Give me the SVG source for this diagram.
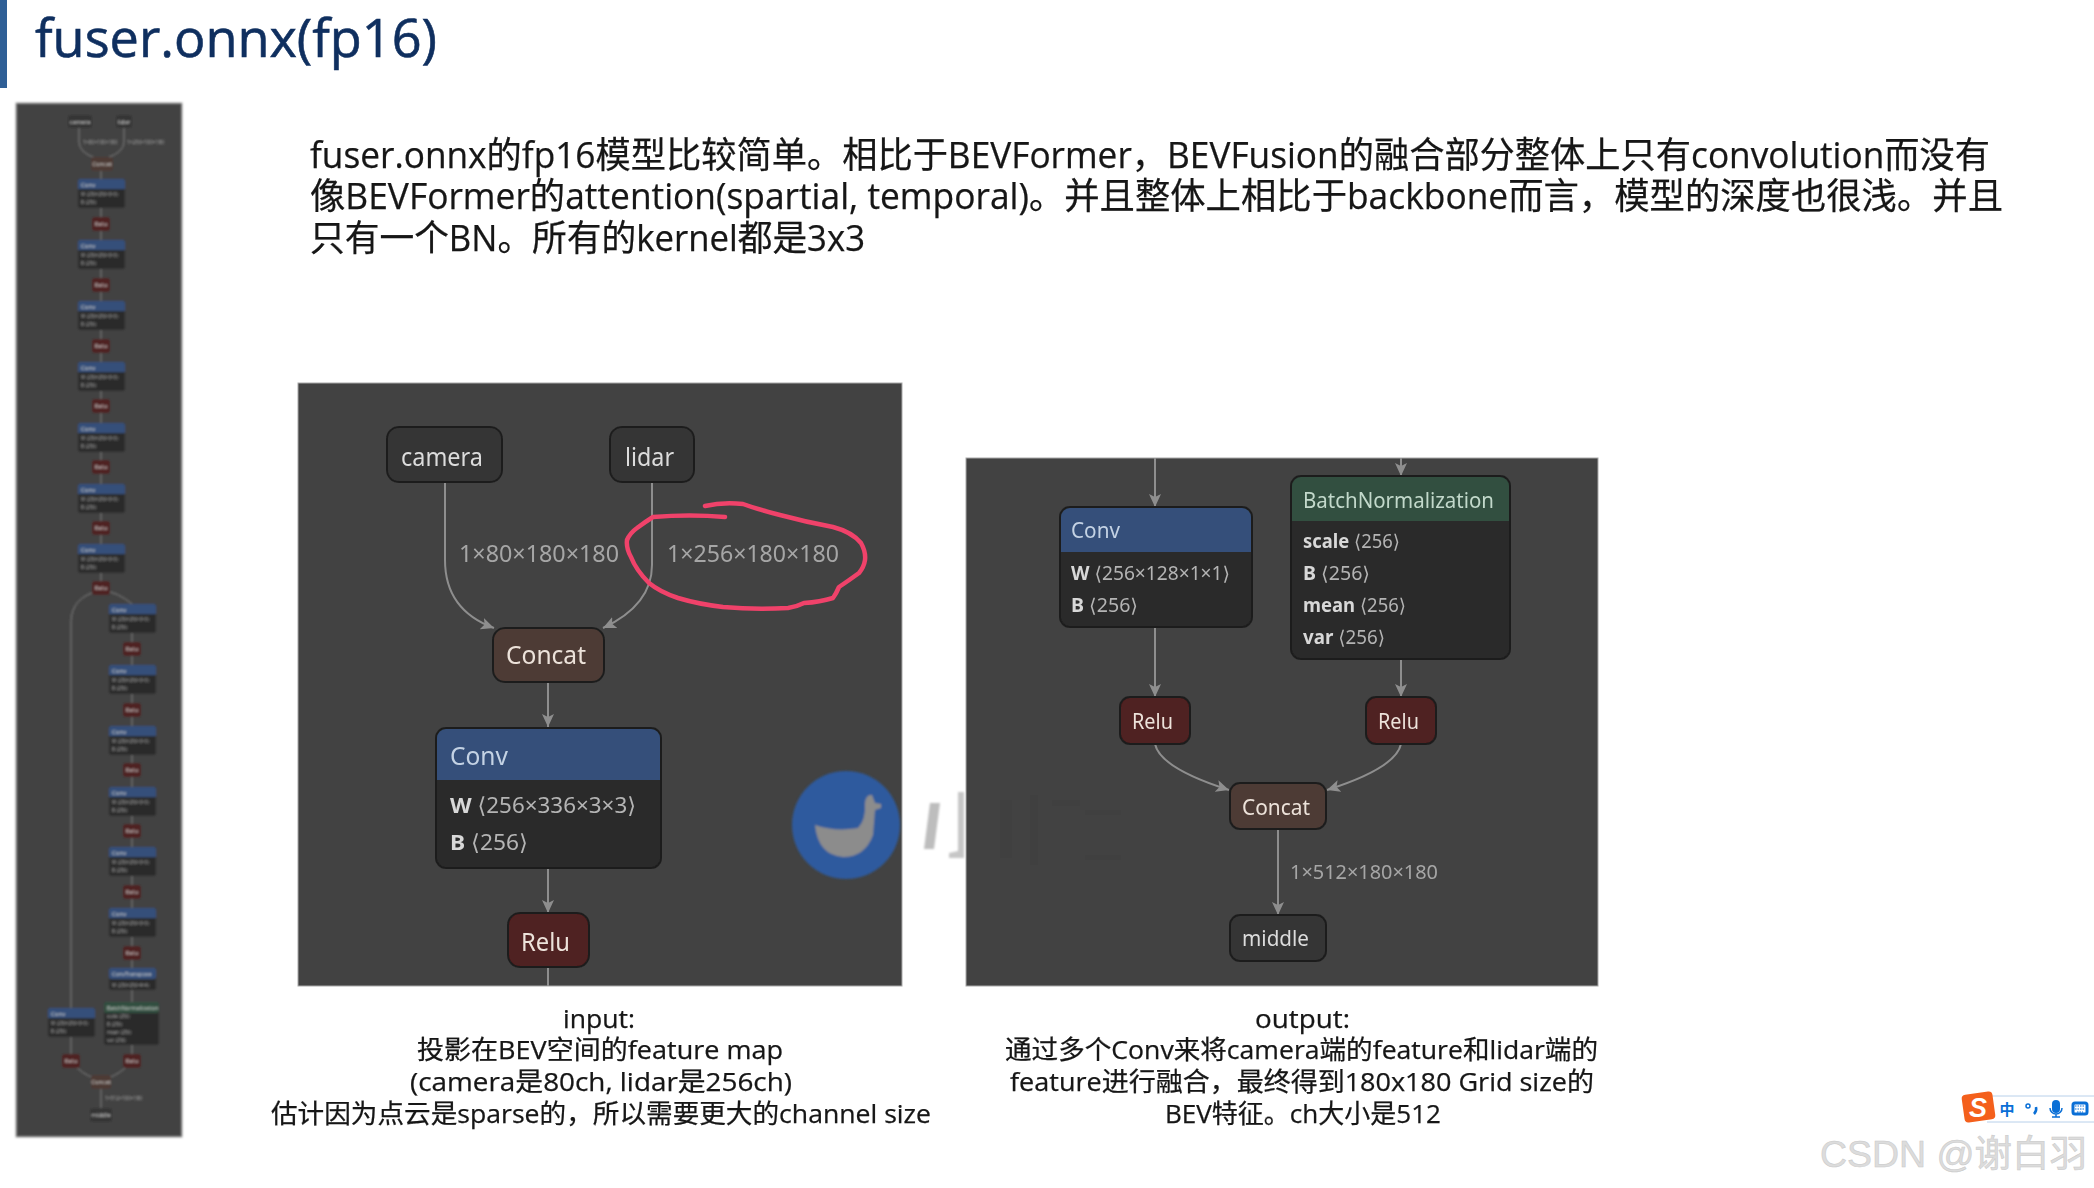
<svg xmlns="http://www.w3.org/2000/svg" xmlns:xlink="http://www.w3.org/1999/xlink" width="2094" height="1188" viewBox="0 0 2094 1188">
<style>
text{font-family:"Noto Sans","Noto Sans CJK SC","DejaVu Sans",sans-serif}
.cn{font-family:"Open Sans","Noto Sans CJK SC",sans-serif;fill:#141414;stroke:#141414;stroke-width:.25}
.panel{fill:#424242;stroke:#a8a8a8;stroke-width:1}
.n{fill:#353535;stroke:#1f1f1f;stroke-width:2}
.body{fill:#2b2b2b;stroke:#1f1f1f;stroke-width:2}
.hc{fill:#34507a}.hb{fill:#30503f}
.cc{fill:#4d3b34;stroke:#1f1f1f;stroke-width:2}
.re{fill:#4f2020;stroke:#1f1f1f;stroke-width:2}
.t{fill:#dcdcdc}.tc{fill:#ece2da}.th{fill:#c4d2e4}.tg{fill:#c3d8cb}
.ta{fill:#b4b4b4}.l{fill:#a6a6a6}
.br{font-family:"DejaVu Sans",sans-serif}
.e{fill:none;stroke:#8e8e8e;stroke-width:2}
.a{marker-end:url(#arr)}
.et{fill:none;stroke:#7a7a7a;stroke-width:1}
.s{filter:url(#soft)}
.s2{filter:url(#soft2)}
.tt{font-size:6px;fill:#d0d0d0}
.tl{font-size:5px;fill:#a0a0a0}
.b{font-weight:700;fill:#d8d8d8}
</style>
<defs>
<marker id="arr" markerUnits="userSpaceOnUse" markerWidth="14" markerHeight="14" refX="13" refY="7" orient="auto"><path d="M0,1 L13,7 L0,13 L3,7 Z" fill="#8e8e8e"/></marker>
<filter id="soft" x="-5%" y="-5%" width="110%" height="110%"><feGaussianBlur stdDeviation="0.5"/></filter>
<filter id="soft2" x="-5%" y="-5%" width="110%" height="110%"><feGaussianBlur stdDeviation="0.8"/></filter>
<g id="tconv"><rect width="47" height="29" rx="2" fill="#2b2b2b"/><path d="M0,10V2a2,2 0 0 1 2-2H45a2,2 0 0 1 2,2V10Z" fill="#34507a"/><text x="3" y="7.5" class="tt">Conv</text><text x="3" y="17" font-size="4.5" fill="#a8a8a8">W ⟨256×256×3×3⟩</text><text x="3" y="25" font-size="4.5" fill="#a8a8a8">B ⟨256⟩</text></g>
<g id="trelu"><rect x="-9" y="-7" width="18" height="14" rx="3" fill="#4f2020"/><text x="0" y="2" text-anchor="middle" class="tt">Relu</text></g>
</defs>
<rect width="2094" height="1188" fill="#fff"/>
<g id="title"><rect x="0" y="0" width="7" height="88" fill="#2f5f96"/><text x="35" y="56.5" font-size="52.8" style="font-family:'Open Sans',sans-serif;fill:#0f2f5f;stroke:#0f2f5f;stroke-width:.6" textLength="402" lengthAdjust="spacingAndGlyphs">fuser.onnx(fp16)</text></g>
<g id="paragraph" class="s" font-size="36">
<text class="cn" x="310" y="168" textLength="1680" lengthAdjust="spacingAndGlyphs">fuser.onnx的fp16模型比较简单。相比于BEVFormer，BEVFusion的融合部分整体上只有convolution而没有</text>
<text class="cn" x="310" y="209" textLength="1693" lengthAdjust="spacingAndGlyphs">像BEVFormer的attention(spartial, temporal)。并且整体上相比于backbone而言，模型的深度也很浅。并且</text>
<text class="cn" x="310" y="251" textLength="555" lengthAdjust="spacingAndGlyphs">只有一个BN。所有的kernel都是3x3</text>
</g>

<g id="thumbnail" class="s2">
<rect x="16" y="103" width="166" height="1034" fill="#424242" stroke="#a8a8a8"/>
<g id="thumb-connectors">
<path class="et" d="M79,127V142Q79,152 95,158M124,127V142Q124,152 107,158M101,170V590M101,590Q118,592 132,604V1061M101,590Q71,597 71,622V1061M71,1061Q82,1075 95,1078M132,1061Q120,1075 107,1078M101,1082V1115"/>
</g>
<g id="thumb-camera"><rect x="68" y="115" width="24" height="13" rx="3" fill="#353535"/><text x="80" y="124" text-anchor="middle" class="tt">camera</text></g>
<g id="thumb-lidar"><rect x="116" y="115" width="16" height="13" rx="3" fill="#353535"/><text x="124" y="124" text-anchor="middle" class="tt">lidar</text></g>
<text x="83" y="144" class="tl">1×80×180×180</text><text x="127" y="144" class="tl">1×256×180×180</text>
<g id="thumb-concat-top"><rect x="91" y="157" width="22" height="14" rx="3" fill="#4d3b34"/><text x="102" y="166" text-anchor="middle" class="tt">Concat</text></g>
<g id="thumb-conv-1"><use xlink:href="#tconv" x="78" y="179"/></g><g id="thumb-relu-1"><use xlink:href="#trelu" x="101" y="224"/></g>
<g id="thumb-conv-2"><use xlink:href="#tconv" x="78" y="240"/></g><g id="thumb-relu-2"><use xlink:href="#trelu" x="101" y="285"/></g>
<g id="thumb-conv-3"><use xlink:href="#tconv" x="78" y="301"/></g><g id="thumb-relu-3"><use xlink:href="#trelu" x="101" y="346"/></g>
<g id="thumb-conv-4"><use xlink:href="#tconv" x="78" y="362"/></g><g id="thumb-relu-4"><use xlink:href="#trelu" x="101" y="406"/></g>
<g id="thumb-conv-5"><use xlink:href="#tconv" x="78" y="423"/></g><g id="thumb-relu-5"><use xlink:href="#trelu" x="101" y="467"/></g>
<g id="thumb-conv-6"><use xlink:href="#tconv" x="78" y="484"/></g><g id="thumb-relu-6"><use xlink:href="#trelu" x="101" y="528"/></g>
<g id="thumb-conv-7"><use xlink:href="#tconv" x="78" y="544"/></g><g id="thumb-relu-7"><use xlink:href="#trelu" x="101" y="588"/></g>
<g id="thumb-conv-8"><use xlink:href="#tconv" x="109" y="604"/></g><g id="thumb-relu-8"><use xlink:href="#trelu" x="132" y="649"/></g>
<g id="thumb-conv-9"><use xlink:href="#tconv" x="109" y="665"/></g><g id="thumb-relu-9"><use xlink:href="#trelu" x="132" y="710"/></g>
<g id="thumb-conv-10"><use xlink:href="#tconv" x="109" y="726"/></g><g id="thumb-relu-10"><use xlink:href="#trelu" x="132" y="770"/></g>
<g id="thumb-conv-11"><use xlink:href="#tconv" x="109" y="787"/></g><g id="thumb-relu-11"><use xlink:href="#trelu" x="132" y="831"/></g>
<g id="thumb-conv-12"><use xlink:href="#tconv" x="109" y="847"/></g><g id="thumb-relu-12"><use xlink:href="#trelu" x="132" y="892"/></g>
<g id="thumb-conv-13"><use xlink:href="#tconv" x="109" y="908"/></g><g id="thumb-relu-13"><use xlink:href="#trelu" x="132" y="953"/></g>
<g id="thumb-convt"><rect x="109" y="968" width="47" height="22" rx="2" fill="#2b2b2b"/><rect x="109" y="968" width="47" height="11" rx="2" fill="#34507a"/><text x="112" y="976" class="tt" style="font-size:5.5px">ConvTranspose</text><text x="112" y="987" font-size="4.5" fill="#a8a8a8">W ⟨256×256×4×4⟩</text></g>
<g id="thumb-bn"><rect x="104" y="1002" width="55" height="43" rx="2" fill="#2b2b2b"/><rect x="104" y="1002" width="55" height="11" rx="2" fill="#30503f"/><text x="107" y="1010" class="tt" style="font-size:5.5px">BatchNormalization</text><text x="107" y="1018" font-size="4.5" fill="#a8a8a8">scale ⟨256⟩</text><text x="107" y="1026" font-size="4.5" fill="#a8a8a8">B ⟨256⟩</text><text x="107" y="1034" font-size="4.5" fill="#a8a8a8">mean ⟨256⟩</text><text x="107" y="1042" font-size="4.5" fill="#a8a8a8">var ⟨256⟩</text></g>
<g id="thumb-conv-14"><use xlink:href="#tconv" x="48" y="1008"/></g>
<g id="thumb-relu-14"><use xlink:href="#trelu" x="71" y="1061"/></g><g id="thumb-relu-15"><use xlink:href="#trelu" x="132" y="1061"/></g>
<g id="thumb-concat"><rect x="91" y="1075" width="20" height="14" rx="3" fill="#4d3b34"/><text x="101" y="1084" text-anchor="middle" class="tt">Concat</text></g>
<text x="105" y="1100" class="tl">1×512×180×180</text>
<g id="thumb-middle"><rect x="90" y="1108" width="22" height="14" rx="3" fill="#353535"/><text x="101" y="1117" text-anchor="middle" class="tt">middle</text></g>
</g>

<rect class="panel" x="298" y="383" width="604" height="603"/>
<rect class="panel" x="966" y="458" width="632" height="528"/>

<g id="watermark">
<g fill="#404040"><rect x="1000" y="800" width="12" height="58"/><rect x="1030" y="795" width="8" height="70"/><rect x="1052" y="800" width="28" height="6"/><rect x="1085" y="810" width="36" height="5"/><rect x="1085" y="855" width="36" height="5"/></g>
<g class="s2"><circle cx="846" cy="825" r="54" fill="#2d5a9e"/>
<path d="M815,825Q835,832 858,828Q866,820 865,803Q866,794 872,795L875,803L881,804L881,808L875,810L873,835Q865,857 843,857Q818,855 815,825Z" fill="#8c8c8c"/>
<path d="M930,803H940L934,849H924Z" fill="#bdbdbd"/>
<path d="M958,792H964V858H949V853L958,851Z" fill="#c6c6c6"/></g>
</g>

<g id="connectors">
<path class="e a" d="M445,482V560Q445,610 494,628"/>
<path class="e a" d="M652,482V565Q652,605 603,628"/>
<path class="e a" d="M548,682V727"/>
<path class="e a" d="M548,868V913"/>
<path class="e" d="M548,967V986"/>
<path class="e a" d="M1155,458V507"/>
<path class="e a" d="M1401,458V476"/>
<path class="e a" d="M1155,627V697"/>
<path class="e a" d="M1401,659V697"/>
<path class="e a" d="M1155,744Q1160,768 1229,790"/>
<path class="e a" d="M1401,744Q1396,768 1327,790"/>
<path class="e a" d="M1278,829V915"/>
</g>

<g id="labels" class="s" font-size="23">
<text class="l" x="459" y="562" textLength="160" lengthAdjust="spacingAndGlyphs">1×80×180×180</text>
<text class="l" x="667" y="562" textLength="172" lengthAdjust="spacingAndGlyphs">1×256×180×180</text>
<text class="l" x="1290" y="879" font-size="20" textLength="148" lengthAdjust="spacingAndGlyphs">1×512×180×180</text>
</g>

<g id="node-camera" class="s"><rect class="n" x="387" y="427" width="115" height="55" rx="12"/><text class="t" x="401" y="466" font-size="26" textLength="82" lengthAdjust="spacingAndGlyphs">camera</text></g>
<g id="node-lidar" class="s"><rect class="n" x="610" y="427" width="84" height="55" rx="12"/><text class="t" x="625" y="466" font-size="26" textLength="49" lengthAdjust="spacingAndGlyphs">lidar</text></g>
<g id="node-concat-a" class="s"><rect class="cc" x="493" y="628" width="111" height="54" rx="12"/><text class="tc" x="506" y="664" font-size="26" textLength="80" lengthAdjust="spacingAndGlyphs">Concat</text></g>
<g id="node-conv-a" class="s"><rect class="body" x="436" y="728" width="225" height="140" rx="10"/><path class="hc" d="M437,780V738a9,9 0 0 1 9-9H651a9,9 0 0 1 9,9V780Z"/><text class="th" x="450" y="765" font-size="26" textLength="58" lengthAdjust="spacingAndGlyphs">Conv</text><text class="ta" x="450" y="813" font-size="22" textLength="186" lengthAdjust="spacingAndGlyphs"><tspan class="b">W</tspan> <tspan class="br">⟨</tspan>256×336×3×3<tspan class="br">⟩</tspan></text><text class="ta" x="450" y="850" font-size="22" textLength="78" lengthAdjust="spacingAndGlyphs"><tspan class="b">B</tspan> <tspan class="br">⟨</tspan>256<tspan class="br">⟩</tspan></text></g>
<g id="node-relu-a" class="s"><rect class="re" x="508" y="913" width="81" height="54" rx="12"/><text class="tc" x="521" y="951" font-size="26" textLength="49" lengthAdjust="spacingAndGlyphs">Relu</text></g>

<g id="node-conv-b" class="s"><rect class="body" x="1060" y="507" width="192" height="120" rx="10"/><path class="hc" d="M1061,552V517a9,9 0 0 1 9-9H1242a9,9 0 0 1 9,9V552Z"/><text class="th" x="1071" y="538" font-size="22" textLength="49" lengthAdjust="spacingAndGlyphs">Conv</text><text class="ta" x="1071" y="580" font-size="19" textLength="159" lengthAdjust="spacingAndGlyphs"><tspan class="b">W</tspan> <tspan class="br">⟨</tspan>256×128×1×1<tspan class="br">⟩</tspan></text><text class="ta" x="1071" y="612" font-size="19" textLength="67" lengthAdjust="spacingAndGlyphs"><tspan class="b">B</tspan> <tspan class="br">⟨</tspan>256<tspan class="br">⟩</tspan></text></g>
<g id="node-bn" class="s"><rect class="body" x="1291" y="476" width="219" height="183" rx="10"/><path class="hb" d="M1292,521V486a9,9 0 0 1 9-9H1500a9,9 0 0 1 9,9V521Z"/><text class="tg" x="1303" y="508" font-size="22" textLength="191" lengthAdjust="spacingAndGlyphs">BatchNormalization</text><text class="ta" x="1303" y="548" font-size="19" textLength="97" lengthAdjust="spacingAndGlyphs"><tspan class="b">scale</tspan> <tspan class="br">⟨</tspan>256<tspan class="br">⟩</tspan></text><text class="ta" x="1303" y="580" font-size="19" textLength="67" lengthAdjust="spacingAndGlyphs"><tspan class="b">B</tspan> <tspan class="br">⟨</tspan>256<tspan class="br">⟩</tspan></text><text class="ta" x="1303" y="612" font-size="19" textLength="103" lengthAdjust="spacingAndGlyphs"><tspan class="b">mean</tspan> <tspan class="br">⟨</tspan>256<tspan class="br">⟩</tspan></text><text class="ta" x="1303" y="644" font-size="19" textLength="82" lengthAdjust="spacingAndGlyphs"><tspan class="b">var</tspan> <tspan class="br">⟨</tspan>256<tspan class="br">⟩</tspan></text></g>
<g id="node-relu-b" class="s"><rect class="re" x="1120" y="697" width="70" height="47" rx="10"/><text class="tc" x="1132" y="729" font-size="22" textLength="41" lengthAdjust="spacingAndGlyphs">Relu</text></g>
<g id="node-relu-c" class="s"><rect class="re" x="1366" y="697" width="70" height="47" rx="10"/><text class="tc" x="1378" y="729" font-size="22" textLength="41" lengthAdjust="spacingAndGlyphs">Relu</text></g>
<g id="node-concat-b" class="s"><rect class="cc" x="1230" y="783" width="96" height="46" rx="10"/><text class="tc" x="1242" y="815" font-size="22" textLength="68" lengthAdjust="spacingAndGlyphs">Concat</text></g>
<g id="node-middle" class="s"><rect class="n" x="1230" y="915" width="96" height="46" rx="10"/><text class="t" x="1242" y="946" font-size="22" textLength="67" lengthAdjust="spacingAndGlyphs">middle</text></g>

<path id="red-circle" d="M705,506Q722,502 743,504Q760,510 780,515Q806,522 833,527Q852,532 861,543Q866,552 865,560Q864,567 859,573Q848,581 839,587Q836,594 833,598Q820,602 804,603Q796,607 788,608Q755,610 723,607Q698,604 678,598Q660,592 649,583Q636,570 631,557Q626,548 627,540Q630,533 637,528Q645,522 653,517Q690,514 725,517" fill="none" stroke="#f0426a" stroke-width="4.5" stroke-linecap="round" stroke-linejoin="round"/>

<g id="caption-input" class="s" font-size="26">
<text class="cn" x="563" y="1028" textLength="72" lengthAdjust="spacingAndGlyphs">input:</text>
<text class="cn" x="417" y="1059" textLength="366" lengthAdjust="spacingAndGlyphs">投影在BEV空间的feature map</text>
<text class="cn" x="410" y="1091" textLength="382" lengthAdjust="spacingAndGlyphs">(camera是80ch, lidar是256ch)</text>
<text class="cn" x="271" y="1123" textLength="660" lengthAdjust="spacingAndGlyphs">估计因为点云是sparse的，所以需要更大的channel size</text>
</g>
<g id="caption-output" class="s" font-size="26">
<text class="cn" x="1255" y="1028" textLength="95" lengthAdjust="spacingAndGlyphs">output:</text>
<text class="cn" x="1005" y="1059" textLength="593" lengthAdjust="spacingAndGlyphs">通过多个Conv来将camera端的feature和lidar端的</text>
<text class="cn" x="1010" y="1091" textLength="584" lengthAdjust="spacingAndGlyphs">feature进行融合，最终得到180x180 Grid size的</text>
<text class="cn" x="1165" y="1123" textLength="276" lengthAdjust="spacingAndGlyphs">BEV特征。ch大小是512</text>
</g>

<g id="ime-toolbar">
<path d="M1987,1096H2094M1987,1122H2094" fill="none" stroke="#b8d0ea" stroke-width="1"/>
<rect x="1963" y="1093" width="31" height="28" rx="4" fill="#f4601c" transform="rotate(-8 1978 1107)"/>
<text x="1978" y="1117" text-anchor="middle" font-size="27" font-weight="700" font-style="italic" fill="#fff" style="font-family:'Liberation Sans',sans-serif">S</text>
<text x="2007" y="1115" text-anchor="middle" font-size="15" font-weight="700" fill="#0a6fd6" style="font-family:'Noto Sans CJK SC',sans-serif">中</text>
<circle cx="2028" cy="1106" r="2" fill="none" stroke="#0a6fd6" stroke-width="1.5"/>
<path d="M2036,1107q1,4-2,7" fill="none" stroke="#0a6fd6" stroke-width="2.5"/>
<rect x="2052" y="1100" width="8" height="13" rx="4" fill="#0a6fd6"/>
<path d="M2050,1108a6,6 0 0 0 12,0M2056,1114V1117M2052,1117H2060" fill="none" stroke="#0a6fd6" stroke-width="1.5"/>
<rect x="2073" y="1103" width="14" height="11" rx="2" fill="#fff" stroke="#0a6fd6" stroke-width="3"/>
<path d="M2075,1106H2085M2075,1109H2085M2077,1112H2083" stroke="#0a6fd6" stroke-width="1" stroke-dasharray="1.5 1"/>
</g>
<text id="csdn" x="1820" y="1167" font-size="37" fill="#dcdcdc" stroke="#c8c8c8" stroke-width="0.5" textLength="267" lengthAdjust="spacingAndGlyphs" style="font-family:'Liberation Sans','Noto Sans CJK SC',sans-serif">CSDN @谢白羽</text>
</svg>
